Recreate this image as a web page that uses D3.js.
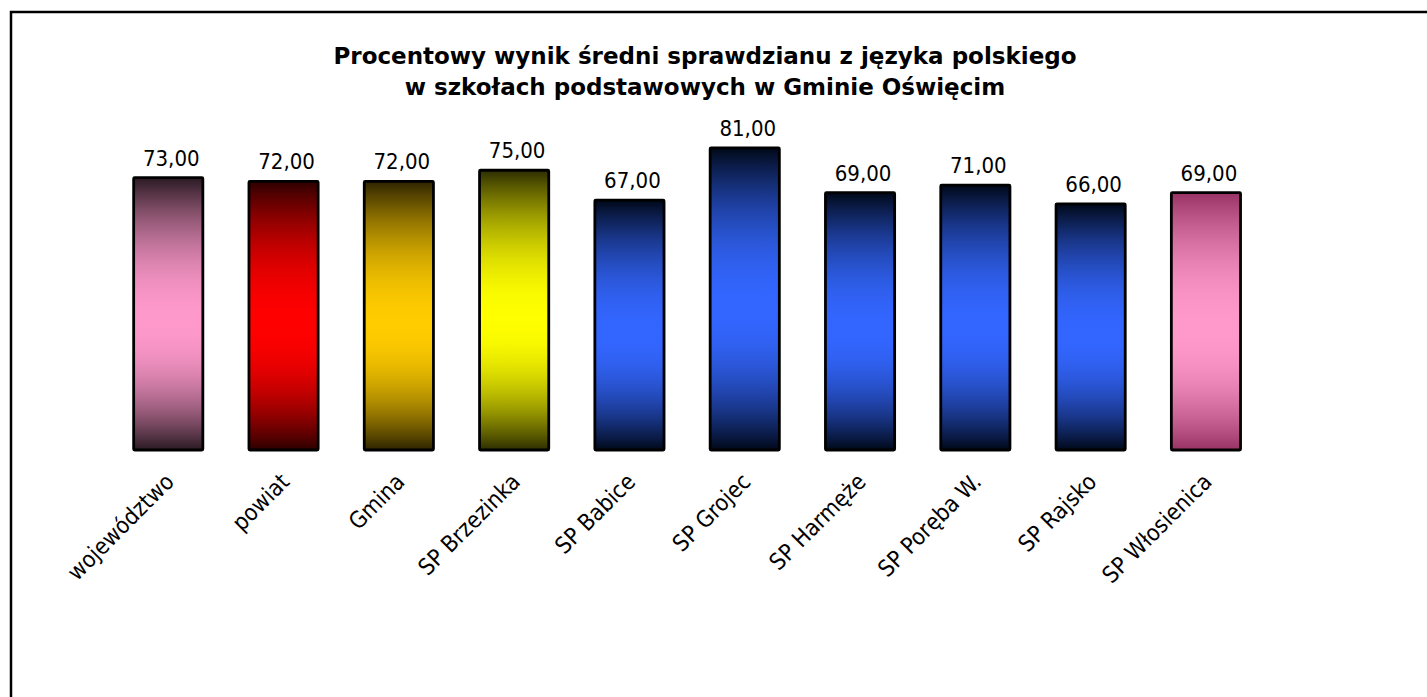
<!DOCTYPE html>
<html>
<head>
    <meta charset="utf-8">
    <script src="https://d3js.org/d3.v7.min.js"></script>
    <style>
        body { margin: 0; background: #fff; }
        svg { display: block; }
        .title { font-family: "DejaVu Sans", sans-serif; font-weight: bold; font-size: 23px; }
        .value { font-family: "DejaVu Sans Condensed", "DejaVu Sans", sans-serif; font-size: 22px; }
        .cat { font-family: "DejaVu Sans Condensed", "DejaVu Sans", sans-serif; font-size: 23px; }
    </style>
</head>
<body>
    <svg width="1427" height="697"></svg>
    <script>
        // chart data
        var categories = ["województwo", "powiat", "Gmina", "SP Brzezinka", "SP Babice",
                          "SP Grojec", "SP Harmęże", "SP Poręba W.", "SP Rajsko", "SP Włosienica"];
        var values = [73, 72, 72, 75, 67, 81, 69, 71, 66, 69];
        var titleLines = ["Procentowy wynik średni sprawdzianu z języka polskiego",
                          "w szkołach podstawowych w Gminie Oświęcim"];
        // bar fill: centre colour / edge colour
        var centreColors = ["#ff99cc", "#ff0000", "#ffcc00", "#ffff00", "#3366ff",
                            "#3366ff", "#3366ff", "#3366ff", "#3366ff", "#ff99cc"];
        var edgeColors = ["#2a1a23", "#2e0000", "#2e2400", "#2e2e00", "#000818",
                          "#000818", "#000818", "#000818", "#000818", "#993366"];

        var svg = d3.select("svg"),
            margin = {top: 77, left: 110.6, right: 163.4, bottom: 247},
            width = +svg.attr("width") - margin.left - margin.right,
            height = +svg.attr("height") - margin.top - margin.bottom;

        // outer frame (only left and top edge visible)
        svg.append("rect")
            .attr("x", 11)
            .attr("y", 12)
            .attr("width", 1440)
            .attr("height", 720)
            .attr("fill", "none")
            .attr("stroke", "#000")
            .attr("stroke-width", 2.5);

        var x = d3.scaleBand()
            .domain(categories)
            .range([0, width])
            .paddingInner(0.4)
            .paddingOuter(0.2);

        var y = d3.scaleLinear()
            .domain([0, 100])
            .range([height, 0]);

        // vertical gradient: dark edges, bright centre (eased, so the middle looks wide)
        var centre = 0.53;
        var defs = svg.append("defs");
        categories.forEach(function(c, i) {
            var mix = d3.interpolateRgb(edgeColors[i], centreColors[i]);
            var g = defs.append("linearGradient")
                .attr("id", "grad" + i)
                .attr("x1", 0).attr("y1", 0)
                .attr("x2", 0).attr("y2", 1);
            d3.range(0, 1.0001, 0.1).forEach(function(s) {
                var t = 1 - (1 - s) * (1 - s);
                g.append("stop").attr("offset", s * centre).attr("stop-color", mix(t));
                g.append("stop").attr("offset", 1 - s * (1 - centre)).attr("stop-color", mix(t));
            });
            // stops must be in order
            var stops = g.selectAll("stop").nodes();
            stops.sort(function(a, b) { return +a.getAttribute("offset") - +b.getAttribute("offset"); });
            stops.forEach(function(n) { g.node().appendChild(n); });
        });

        var title = svg.append("text")
            .attr("class", "title")
            .attr("text-anchor", "middle");
        titleLines.forEach(function(t, i) {
            title.append("tspan")
                .attr("x", 705)
                .attr("y", 64 + i * 31)
                .text(t);
        });

        var focus = svg.append("g")
            .attr("transform", "translate(" + margin.left + "," + margin.top + ")");

        var data = categories.map(function(c, i) { return {name: c, value: values[i], idx: i}; });

        focus.selectAll(".bar")
            .data(data)
            .enter().append("rect")
            .attr("class", "bar")
            .attr("x", function(d) { return x(d.name); })
            .attr("y", function(d) { return y(d.value); })
            .attr("width", x.bandwidth())
            .attr("height", function(d) { return height - y(d.value); })
            .attr("fill", function(d) { return "url(#grad" + d.idx + ")"; })
            .attr("stroke", "#000")
            .attr("stroke-width", 2.8)
            .attr("rx", 1);

        focus.selectAll(".value")
            .data(data)
            .enter().append("text")
            .attr("class", "value")
            .attr("text-anchor", "middle")
            .attr("x", function(d) { return x(d.name) + x.bandwidth() / 2 + 3; })
            .attr("y", function(d) { return y(d.value) - 12; })
            .text(function(d) { return d3.format(".2f")(d.value).replace(".", ","); });

        // rotated category labels
        focus.selectAll(".cat")
            .data(data)
            .enter().append("text")
            .attr("class", "cat")
            .attr("text-anchor", "end")
            .attr("transform", function(d) {
                return "translate(" + (x(d.name) + x.bandwidth() / 2 - 5) + "," + (height + 21) + ") rotate(-45)";
            })
            .attr("dy", "0.75em")
            .text(function(d) { return d.name; });
    </script>
</body>
</html>
